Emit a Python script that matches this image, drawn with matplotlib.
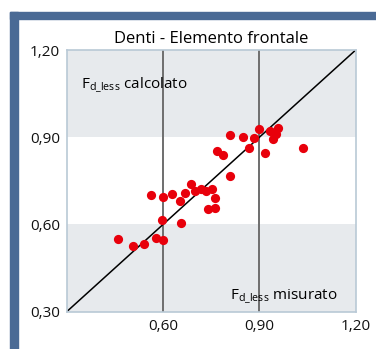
import matplotlib.pyplot as plt
from matplotlib.patches import Rectangle

plt.rcParams['font.family'] = ['Open Sans', 'DejaVu Sans']

title = 'Denti - Elemento frontale'
ticks = [0.30, 0.60, 0.90, 1.20]
tick_labels = ['0,30', '0,60', '0,90', '1,20']
ref_lines = [0.60, 0.90]
bands = [(0.30, 0.60), (0.90, 1.20)]

measured = [0.461, 0.506, 0.541, 0.577, 0.601, 0.598, 0.657, 0.563, 0.600, 0.627,
            0.653, 0.668, 0.686, 0.701, 0.718, 0.734, 0.752, 0.762, 0.741, 0.762,
            0.810, 0.769, 0.788, 0.807, 0.850, 0.883, 0.898, 0.869, 0.919, 0.933,
            0.958, 0.952, 0.941, 1.037]
calculated = [0.549, 0.526, 0.533, 0.554, 0.545, 0.617, 0.606, 0.700, 0.696, 0.706,
              0.682, 0.709, 0.739, 0.716, 0.722, 0.716, 0.721, 0.691, 0.652, 0.656,
              0.767, 0.852, 0.839, 0.906, 0.902, 0.899, 0.927, 0.862, 0.847, 0.921,
              0.931, 0.911, 0.895, 0.862]

W, H = 376, 349
fig = plt.figure(figsize=(W / 100, H / 100), dpi=100)
frame_col = '#4a6a95'
# blue frame on top and left
fig.patches.append(Rectangle((10 / W, 1 - 19 / H), 1, 7 / H, transform=fig.transFigure,
                             color=frame_col, zorder=0))
fig.patches.append(Rectangle((10 / W, 0), 8 / W, 1 - 12 / H, transform=fig.transFigure,
                             color=frame_col, zorder=0))

ax = fig.add_axes([66.7 / W, 1 - 311.7 / H, 289 / W, 261.7 / H])
ax.set_xlim(0.30, 1.20)
ax.set_ylim(0.30, 1.20)
for lo, hi in bands:
    ax.axhspan(lo, hi, color='#e7eaed', lw=0, zorder=0)
for v in ref_lines:
    ax.axvline(v, color='#6e6e6e', lw=1.4, zorder=1)
ax.plot([0.30, 1.20], [0.30, 1.20], color='black', lw=1.1, zorder=2)
ax.scatter(measured, calculated, s=44, color='#e8000b', lw=0, zorder=3)

ax.set_yticks(ticks)
ax.set_yticklabels(tick_labels)
ax.set_xticks(ticks[1:])
ax.set_xticklabels(tick_labels[1:])
ax.tick_params(length=0, labelsize=11, colors='#111111', pad=5)
for s in ax.spines.values():
    s.set_color('#b9c9d6')
    s.set_linewidth(1.2)

ax.set_title(title, fontsize=12, pad=5)
ax.text(0.343, 1.075, r'F$_{\mathregular{d\_less}}$ calcolato', fontsize=11, va='center')
ax.text(0.81, 0.349, r'F$_{\mathregular{d\_less}}$ misurato', fontsize=11, va='center')

fig.savefig('out.png', dpi=100)
